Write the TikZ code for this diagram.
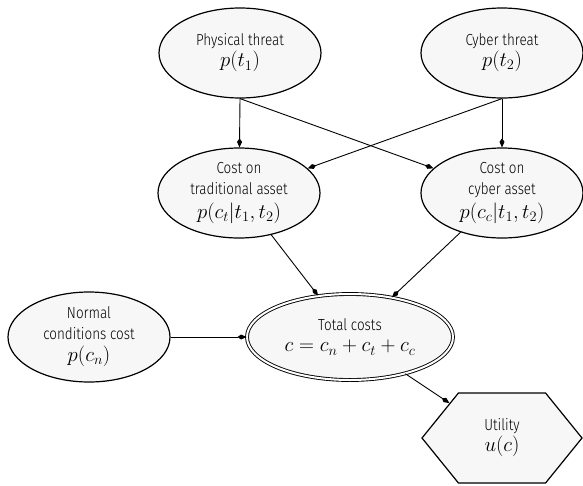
\documentclass[tikz,border=0pt]{standalone}
\usepackage{fontspec}
\setmainfont{Fira Sans Light}[FakeStretch=0.84]
\usetikzlibrary{shapes.geometric,shapes.symbols,arrows.meta}
\definecolor{nodefill}{RGB}{247,247,247}
\tikzset{
  every node/.style={font=\fontsize{16pt}{21pt}\selectfont, align=center, inner sep=0pt},
  varnode/.style={ellipse, draw, fill=nodefill, line width=1.2pt,
    minimum width=162pt, minimum height=90pt},
  totalnode/.style={ellipse, draw, fill=nodefill, double, line width=0.9pt,
    double distance=2pt, minimum width=206pt, minimum height=86pt},
  utilnode/.style={signal, signal to=east and west, signal pointer angle=102,
    draw, fill=nodefill, line width=1.2pt, minimum width=160pt, minimum height=90pt},
  link/.style={line width=0.9pt, -{Kite[length=9pt,width=5pt,inset=3.5pt]}}
}
% larger maths line under the plain text lines
\newcommand{\mth}[1]{{\fontsize{20.5pt}{22pt}\selectfont$#1$}}
\begin{document}
\begin{tikzpicture}[x=1pt,y=-1pt]
  \useasboundingbox (0,0) rectangle (583,485);
  \node[varnode] (phys) at (240,53) {Physical threat\\[0pt]\mth{p(t_1)}};
  \node[varnode] (cyb)  at (502,53) {Cyber threat\\[0pt]\mth{p(t_2)}};
  \node[varnode] (trad) at (239,193) {Cost on\\traditional asset\\[3pt]\mth{p(c_t|t_1,t_2)}};
  \node[varnode] (cyba) at (502,193) {Cost on\\cyber asset\\[3pt]\mth{p(c_c|t_1,t_2)}};
  \node[varnode] (norm) at (89,337) {Normal\\conditions cost\\[1pt]\mth{p(c_n)}};
  \node[totalnode] (total) at (350,337) {Total costs\\[0pt]\mth{c=c_n+c_t+c_c}};
  \node[utilnode] (util) at (502,438) {Utility\\[0pt]\mth{u(c)}};

  \draw[link] (phys.south) -- (trad);
  \draw[link] (phys.south) -- (cyba);
  \draw[link] (cyb.south) -- (cyba);
  \draw[link] (cyb.south) -- (trad);
  \draw[link] (trad) -- (total);
  \draw[link] (cyba) -- (total);
  \draw[link] (norm) -- (total);
  \draw[link] (total) -- (util);
\end{tikzpicture}
\end{document}
